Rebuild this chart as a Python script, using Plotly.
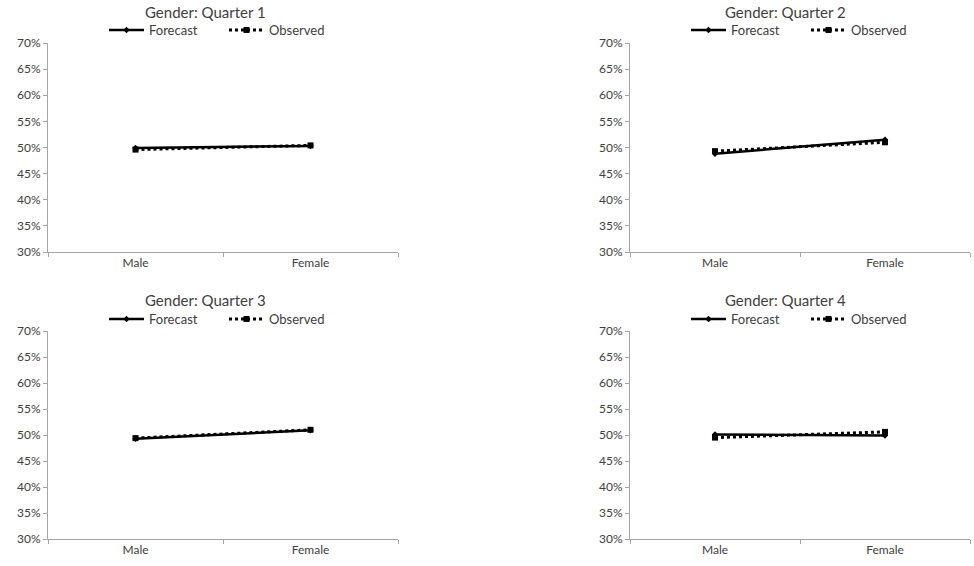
import plotly.graph_objects as go

# Forecast vs. observed gender split, by quarter (percent)
categories = ["Male", "Female"]
quarters = ["Quarter 1", "Quarter 2", "Quarter 3", "Quarter 4"]
forecast = {
    "Quarter 1": [49.9, 50.3],
    "Quarter 2": [48.8, 51.5],
    "Quarter 3": [49.3, 50.9],
    "Quarter 4": [50.1, 49.9],
}
observed = {
    "Quarter 1": [49.6, 50.4],
    "Quarter 2": [49.3, 51.0],
    "Quarter 3": [49.4, 51.0],
    "Quarter 4": [49.5, 50.6],
}
y_ticks = [30, 35, 40, 45, 50, 55, 60, 65, 70]
y_tick_text = [f"{v}%" for v in y_ticks]

W, H = 974, 566
FONT = "Lato, 'Open Sans', sans-serif"
TXT = "#404040"
AXIS = "#a6a6a6"

# plot-area boxes in pixels: (left, right, top, bottom)
boxes = [
    (48, 398, 43, 252),
    (630, 970, 43, 252),
    (48, 398, 331, 539),
    (630, 970, 331, 539),
]
title_y = [12, 12, 300, 300]
title_x = [205, 785, 205, 785]
legend_y = [30, 30, 319, 319]
legend_left = [104, 686, 104, 686]

fig = go.Figure()
layout = dict(
    width=W, height=H,
    margin=dict(l=0, r=0, t=0, b=0, autoexpand=False),
    paper_bgcolor="white", plot_bgcolor="white",
    font=dict(family=FONT, size=12, color=TXT),
    annotations=[],
)

for i, q in enumerate(quarters):
    n = "" if i == 0 else str(i + 1)
    xa, ya = "x" + n, "y" + n
    lg = "legend" + n
    l, r, t, b = boxes[i]
    fig.add_trace(go.Scatter(
        x=categories, y=forecast[q], name="Forecast", mode="lines+markers",
        line=dict(color="black", width=2.5),
        marker=dict(symbol="diamond", size=5, color="black"),
        xaxis=xa, yaxis=ya, legend=lg,
    ))
    fig.add_trace(go.Scatter(
        x=categories, y=observed[q], name="Observed", mode="lines+markers",
        line=dict(color="black", width=3, dash="dot"),
        marker=dict(symbol="square", size=6, color="black"),
        xaxis=xa, yaxis=ya, legend=lg,
    ))
    layout["xaxis" + n] = dict(
        domain=[l / W, r / W], anchor=ya,
        range=[-0.5, 1.5], type="category",
        showline=True, linecolor=AXIS, linewidth=1,
        ticks="outside", tickson="boundaries", ticklen=4, tickcolor=AXIS,
        showgrid=False, zeroline=False,
        tickfont=dict(size=12, color=TXT), fixedrange=True,
    )
    layout["yaxis" + n] = dict(
        domain=[1 - b / H, 1 - t / H], anchor=xa,
        range=[30, 70], tickvals=y_ticks, ticktext=y_tick_text,
        showline=True, linecolor=AXIS, linewidth=1,
        ticks="outside", ticklen=4, tickcolor=AXIS,
        showgrid=False, zeroline=False,
        tickfont=dict(size=12, color=TXT), fixedrange=True,
    )
    layout[lg] = dict(
        orientation="h", x=legend_left[i] / W, y=1 - legend_y[i] / H,
        xanchor="left", yanchor="middle",
        font=dict(size=13, color=TXT), bgcolor="rgba(0,0,0,0)",
        itemwidth=35, entrywidth=70, tracegroupgap=0,
    )
    layout["annotations"].append(dict(
        text="Gender: " + q, x=title_x[i] / W, y=1 - title_y[i] / H,
        xref="paper", yref="paper", xanchor="center", yanchor="middle",
        showarrow=False, font=dict(size=15, color=TXT, family=FONT),
    ))

fig.update_layout(**layout)
fig.write_html("out.html")
